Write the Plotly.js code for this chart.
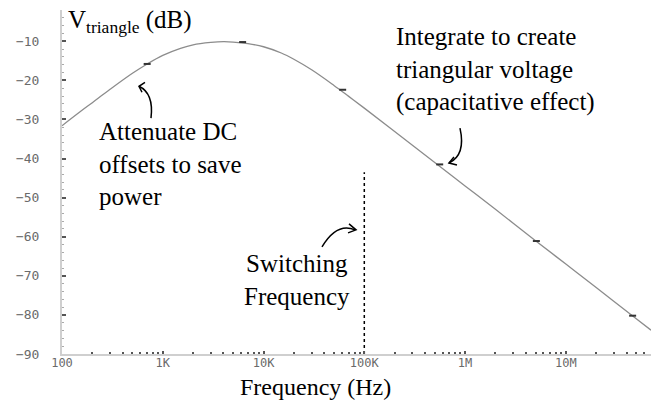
<!DOCTYPE html>
<html>
<head>
<meta charset="utf-8">
<script src="https://cdn.plot.ly/plotly-3.0.1.min.js"></script>
<style>html,body{margin:0;padding:0;background:#fff;}#chart{width:656px;height:401px;}</style>
</head>
<body>
<div id="chart"></div>
<script>
// ---- data ----
const freq = [100,150,200,300,500,700,1e3,1.5e3,2e3,3e3,4e3,5e3,7e3,1e4,1.5e4,2e4,3e4,5e4,7e4,1e5,2e5,5e5,1e6,2e6,5e6,1e7,2e7,5e7,7e7];
const vdb  = [-31.6,-28.1,-25.7,-22.3,-18.2,-15.8,-13.6,-11.8,-10.9,-10.3,-10.1,-10.2,-10.6,-11.4,-13.0,-14.6,-17.3,-21.3,-24.1,-27.1,-33.1,-41.0,-47.0,-53.0,-61.0,-67.0,-73.0,-81.0,-83.9];
const markerFreq = [700, 6200, 61000, 560000, 5.1e6, 4.6e7];
const markerDb   = [-15.8, -10.2, -22.4, -41.5, -61.1, -80.2];
const switchFreq = [1e5, 1e5];
const switchDb   = [-90, -43.5];
const xTickVals = [100, 1e3, 1e4, 1e5, 1e6, 1e7];
const xTickText = ["100", "1K", "10K", "100K", "1M", "10M"];
const yTickVals = [-90, -80, -70, -60, -50, -40, -30, -20, -10];
const yTickText = ["\u221290", "\u221280", "\u221270", "\u221260", "\u221250", "\u221240", "\u221230", "\u221220", "\u221210"];

// ---- layout helpers (pixel -> paper) ----
const L = 62, R = 651, T = 9.5, B = 354.5;
const px = x => (x - L) / (R - L);
const py = y => (B - y) / (B - T);
const P = (x, y) => px(x).toFixed(4) + ',' + py(y).toFixed(4);

const minorX = [];
for (let e = 2; e <= 7; e++) for (let m = 2; m <= 9; m++) minorX.push(m * Math.pow(10, e));

const textFont = {family: 'Liberation Serif, Times New Roman, serif', size: 25, color: '#000'};
const yTickFont = {family: 'DejaVu Sans Mono, monospace', size: 13, color: '#6a6a6a'};
const xTickFont = {family: 'DejaVu Sans Mono, monospace', size: 12, color: '#6a6a6a'};

const traces = [
  {x: freq, y: vdb, type: 'scatter', mode: 'lines', line: {color: '#8c8c8c', width: 1.3, shape: 'spline'}, hoverinfo: 'skip'},
  {x: markerFreq, y: markerDb, type: 'scatter', mode: 'markers', marker: {symbol: 'line-ew', size: 5, line: {color: '#333', width: 2}}, hoverinfo: 'skip'},
  {x: switchFreq, y: switchDb, type: 'scatter', mode: 'lines', line: {color: '#000', width: 1.5, dash: 'dot'}, hoverinfo: 'skip'}
];

const arrowLine = {color: '#000', width: 1.5};
const shapes = [
  // Attenuate arrow
  {type: 'path', xref: 'paper', yref: 'paper', path: 'M ' + P(151, 118) + ' Q ' + P(154, 93) + ' ' + P(139, 86), line: arrowLine},
  {type: 'path', xref: 'paper', yref: 'paper', path: 'M ' + P(145, 82) + ' L ' + P(139, 86) + ' L ' + P(142, 92), line: arrowLine},
  // Integrate arrow
  {type: 'path', xref: 'paper', yref: 'paper', path: 'M ' + P(460, 128) + ' Q ' + P(466, 155) + ' ' + P(449, 163), line: arrowLine},
  {type: 'path', xref: 'paper', yref: 'paper', path: 'M ' + P(454, 157) + ' L ' + P(449, 163) + ' L ' + P(457, 165), line: arrowLine},
  // Switching arrow
  {type: 'path', xref: 'paper', yref: 'paper', path: 'M ' + P(322, 247) + ' Q ' + P(337, 222) + ' ' + P(355, 230), line: arrowLine},
  {type: 'path', xref: 'paper', yref: 'paper', path: 'M ' + P(349, 224) + ' L ' + P(356, 230) + ' L ' + P(348, 233), line: arrowLine}
];

const annotations = [
  {xref: 'paper', yref: 'paper', x: px(66), y: py(21), xanchor: 'left', yanchor: 'middle', showarrow: false,
   text: 'V<sub>triangle</sub> (dB)', font: textFont},
  {xref: 'paper', yref: 'paper', x: px(97), y: py(116), xanchor: 'left', yanchor: 'top', align: 'left', showarrow: false,
   text: 'Attenuate DC<br>offsets to save<br>power', font: textFont},
  {xref: 'paper', yref: 'paper', x: px(394), y: py(21), xanchor: 'left', yanchor: 'top', align: 'left', showarrow: false,
   text: 'Integrate to create<br>triangular voltage<br>(capacitative effect)', font: textFont},
  {xref: 'paper', yref: 'paper', x: px(297), y: py(248), xanchor: 'center', yanchor: 'top', align: 'center', showarrow: false,
   text: 'Switching<br>Frequency', font: textFont},
  {xref: 'paper', yref: 'paper', x: px(315), y: py(388), xanchor: 'center', yanchor: 'middle', showarrow: false,
   text: 'Frequency (Hz)', font: Object.assign({}, textFont, {size: 24})}
];

const layout = {
  width: 656, height: 401,
  margin: {l: L, r: 656 - R, t: T, b: 401 - B},
  paper_bgcolor: '#fff', plot_bgcolor: '#fff',
  showlegend: false,
  xaxis: {
    type: 'log', range: [2, Math.log10(7e7)],
    showgrid: false, zeroline: false,
    showline: true, linecolor: '#cfcfcf', linewidth: 2,
    ticks: 'inside', ticklen: 3, tickwidth: 2, tickcolor: '#555',
    tickvals: xTickVals, ticktext: xTickText, tickfont: xTickFont,
    ticklabelstandoff: -3,
    minor: {tickvals: minorX, ticks: 'inside', ticklen: 2, tickwidth: 2, tickcolor: '#555', showgrid: false}
  },
  yaxis: {
    range: [-90, -2],
    showgrid: false, zeroline: false,
    showline: true, linecolor: '#cfcfcf', linewidth: 2,
    ticks: 'inside', ticklen: 4, tickwidth: 2, tickcolor: '#555',
    tickvals: yTickVals, ticktext: yTickText, tickfont: yTickFont,
    ticklabelstandoff: 18,
    minor: {dtick: 2, ticks: 'inside', ticklen: 2, tickwidth: 1, tickcolor: '#aaa', showgrid: false}
  },
  shapes: shapes,
  annotations: annotations
};

Plotly.newPlot('chart', traces, layout, {staticPlot: true, displayModeBar: false});
</script>
</body>
</html>
